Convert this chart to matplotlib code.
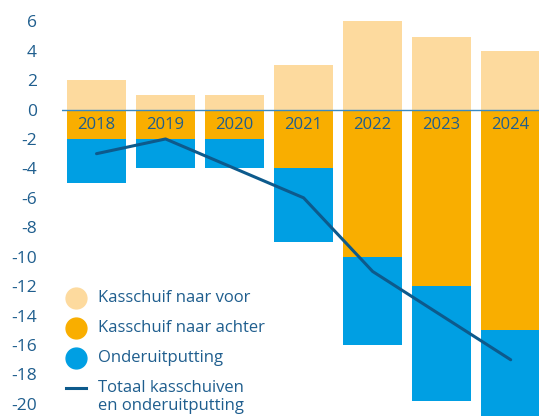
import matplotlib
matplotlib.use('Agg')
import matplotlib.pyplot as plt
from matplotlib.lines import Line2D
import numpy as np

plt.rcParams['font.family'] = ['Open Sans', 'DejaVu Sans']

# ---------- 数据 ----------
years = ['2018', '2019', '2020', '2021', '2022', '2023', '2024']
naar_voor = [2, 1, 1, 3, 6, 4.9, 4]          # 正向
naar_achter = [-2, -2, -2, -4, -10, -12, -15]  # 负向
onderuitputting = [-3, -2, -2, -5, -6, -7.8, -6]
totaal = [-3, -2, -4, -6, -11, -14, -17]
legend_labels = ['Kasschuif naar voor', 'Kasschuif naar achter', 'Onderuitputting',
                 'Totaal kasschuiven\nen onderuitputting']

# ---------- 样式 ----------
C_VOOR = '#FDDA9E'
C_ACHTER = '#F9AE00'
C_ONDER = '#009FE3'
C_LINE = '#0D5A8C'
C_TEXT = '#1F5E8E'
C_ZERO = '#3A8AC4'
W, H = 539, 416

fig = plt.figure(figsize=(W / 100, H / 100), dpi=100)
ax = fig.add_axes([62 / W, 0, 1 - 62 / W, 1])

x = np.arange(len(years))
w = 0.855
ax.bar(x, naar_voor, w, color=C_VOOR, zorder=2)
ax.bar(x, naar_achter, w, color=C_ACHTER, zorder=2)
ax.bar(x, onderuitputting, w, bottom=naar_achter, color=C_ONDER, zorder=2)
ax.plot(x, totaal, color=C_LINE, lw=2.2, zorder=4, solid_capstyle='round')

ax.axhline(0, color=C_ZERO, lw=1.0, zorder=3)

for xi, yr in zip(x, years):
    ax.text(xi, -1.05, yr, ha='center', va='center', color=C_TEXT, fontsize=12, zorder=5)

ax.set_xlim(-0.5, 6.41)
ax.set_ylim(-20.82, 7.44)
ax.set_yticks(range(-20, 7, 2))
ax.set_yticklabels([str(v) for v in range(-20, 7, 2)])
ax.tick_params(axis='y', length=0, pad=18, labelsize=12.5, labelcolor=C_TEXT)
ax.set_xticks([])
for s in ax.spines.values():
    s.set_visible(False)

# ---------- 图例（手动放置，像素坐标） ----------
def fx(px):
    return px / W

def fy(py):
    return 1 - py / H

rows_y = [298, 327.5, 358, 388]
colors = [C_VOOR, C_ACHTER, C_ONDER]
for yy, c in zip(rows_y[:3], colors):
    fig.add_artist(Line2D([fx(76)], [fy(yy)], ls='', marker='o', ms=15,
                          color=c, transform=fig.transFigure))
fig.add_artist(Line2D([fx(66), fx(86)], [fy(388), fy(388)], color=C_LINE, lw=2.2,
                      transform=fig.transFigure))
for yy, lab in zip(rows_y, legend_labels):
    fig.text(fx(98), fy(yy - 8), lab, ha='left', va='top', fontsize=12,
             color=C_TEXT, linespacing=1.2)

fig.savefig('out.png', dpi=100)
